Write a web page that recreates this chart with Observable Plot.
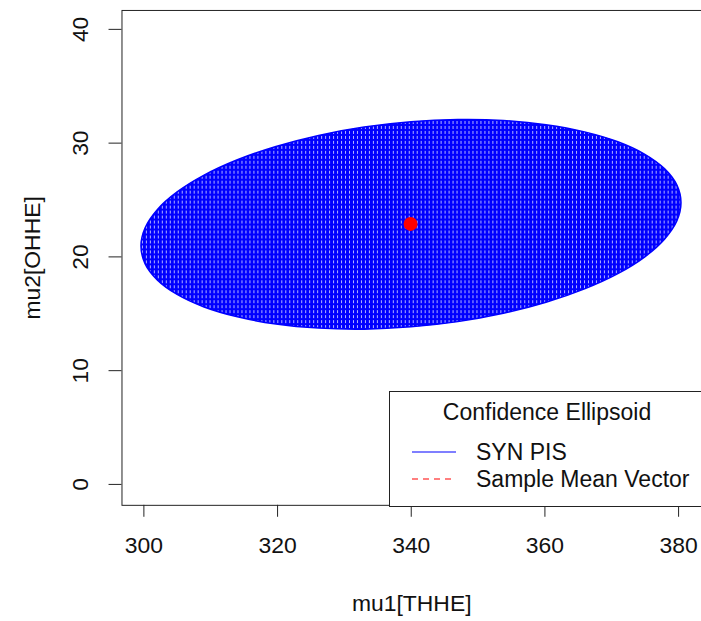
<!DOCTYPE html>
<html>
<head>
<meta charset="utf-8">
<script src="https://cdn.jsdelivr.net/npm/d3@7"></script>
<script src="https://cdn.jsdelivr.net/npm/@observablehq/plot@0.6"></script>
<style>
html, body { margin: 0; padding: 0; background: #fff; }
#wrap { position: relative; width: 701px; height: 621px; overflow: hidden; font-family: "Liberation Sans", Arial, sans-serif; color: #111; }
#legend { position: absolute; left: 389px; top: 391px; width: 320px; height: 116px; box-sizing: border-box; border: 1px solid #222; background: #fff; }
#legend .t { position: absolute; font-size: 23px; line-height: 26px; white-space: nowrap; }
#legend svg { position: absolute; }
</style>
</head>
<body>
<svg width="0" height="0" style="position:absolute">
  <defs>
    <pattern id="ellFill" patternUnits="userSpaceOnUse" width="4" height="5">
      <rect width="4" height="5" fill="#0000ff"></rect>
      <rect x="2" y="1" width="1" height="3" fill="#ffffff" fill-opacity="0.7"></rect>
    </pattern>
  </defs>
</svg>
<div id="wrap"></div>
<script>
// ---- data ----
const mu1Ticks = [300, 320, 340, 360, 380];
const mu2Ticks = [0, 10, 20, 30, 40];
const xLabel = "mu1[THHE]";
const yLabel = "mu2[OHHE]";

// outline of the confidence ellipse (boundary points)
const ellipseMu1 = [380.36, 379.75, 377.92, 374.95, 370.91, 365.93, 360.16, 353.78, 346.97, 339.96, 332.95, 326.14, 319.76, 313.99, 309.01, 304.97, 302.00, 300.17,
                    299.56, 300.17, 302.00, 304.97, 309.01, 313.99, 319.76, 326.14, 332.95, 339.96, 346.97, 353.78, 360.16, 365.93, 370.91, 374.95, 377.92, 379.75];
const ellipseMu2 = [24.77, 26.31, 27.74, 29.02, 30.12, 30.99, 31.62, 31.99, 32.07, 31.88, 31.41, 30.68, 29.71, 28.54, 27.19, 25.71, 24.15, 22.54,
                    20.95, 19.41, 17.98, 16.70, 15.60, 14.73, 14.10, 13.74, 13.65, 13.85, 14.31, 15.04, 16.01, 17.19, 18.53, 20.01, 21.58, 23.18];

const meanMu1 = [339.9];
const meanMu2 = [22.9];

const legendTitle = "Confidence Ellipsoid";
const legendLabels = ["SYN PIS", "Sample Mean Vector"];
const legendColors = ["blue", "red"];
const legendDash = [null, "6,5"];

// ---- build tables ----
const ellipse = ellipseMu1.map((x, i) => ({x, y: ellipseMu2[i]}));
const mean = meanMu1.map((x, i) => ({x, y: meanMu2[i]}));

const chart = Plot.plot({
  width: 704,
  height: 621,
  marginLeft: 122,
  marginRight: 0,
  marginTop: 10,
  marginBottom: 114,
  x: {domain: [300, 380], range: [144, 681]},
  y: {domain: [0, 40], range: [486, 29]},
  style: {fontFamily: "'Liberation Sans', Arial, sans-serif", fontSize: "23px", color: "#111", background: "transparent"},
  marks: [
    Plot.line(ellipse, {x: "x", y: "y", curve: "catmull-rom-closed", fill: "url(#ellFill)", stroke: "#0000ff", strokeWidth: 1.5}),
    Plot.dot(mean, {x: "x", y: "y", r: 7, fill: "red", stroke: "none"}),
    Plot.frame({stroke: "#222", strokeOpacity: 1}),
    Plot.axisX({ticks: mu1Ticks, tickSize: 12, tickPadding: 20, fontSize: 23, label: null, stroke: "#222", strokeOpacity: 1}),
    Plot.axisY({ticks: mu2Ticks, tickSize: 13, tickFormat: () => "", label: null, stroke: "#222", strokeOpacity: 1}),
    Plot.text(mu2Ticks, {y: d => d, text: d => String(d), frameAnchor: "left", dx: -42, rotate: -90, textAnchor: "middle", lineAnchor: "middle", fontSize: 23, fill: "#111"}),
    Plot.text([xLabel], {text: d => d, frameAnchor: "bottom", dy: 99, lineAnchor: "middle", fontSize: 23, fill: "#111"}),
    Plot.text([yLabel], {text: d => d, frameAnchor: "left", dx: -90, rotate: -90, textAnchor: "middle", lineAnchor: "middle", fontSize: 23, fill: "#111"})
  ]
});

const wrap = document.getElementById("wrap");
wrap.appendChild(chart);

// ---- legend (inside the plot region, like R's legend box) ----
const legend = document.createElement("div");
legend.id = "legend";
const title = document.createElement("div");
title.className = "t";
title.style.left = "0px";
title.style.width = "314px";
title.style.textAlign = "center";
title.style.top = "7px";
title.textContent = legendTitle;
legend.appendChild(title);
const rowTops = [47, 74];
legendLabels.forEach((lab, i) => {
  const svg = d3.create("svg").attr("width", 46).attr("height", 6)
    .style("left", "21px").style("top", (rowTops[i] + 10) + "px");
  svg.append("line").attr("x1", 1).attr("x2", 45).attr("y1", 3).attr("y2", 3)
    .attr("stroke", legendColors[i]).attr("stroke-width", 1.2)
    .attr("stroke-dasharray", legendDash[i]);
  legend.appendChild(svg.node());
  const t = document.createElement("div");
  t.className = "t";
  t.style.left = "86px";
  t.style.top = rowTops[i] + "px";
  t.textContent = lab;
  legend.appendChild(t);
});
wrap.appendChild(legend);
</script>
</body>
</html>
